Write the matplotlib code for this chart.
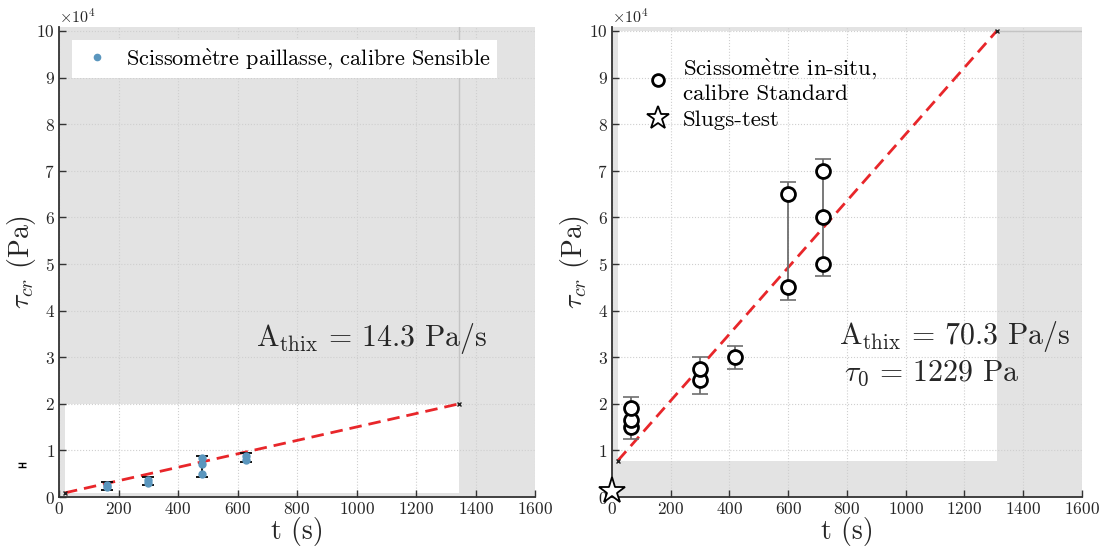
import numpy as np
import matplotlib
matplotlib.use("Agg")
import matplotlib.pyplot as plt
from matplotlib.patches import Rectangle
from matplotlib.ticker import ScalarFormatter, MultipleLocator

plt.rcParams["font.family"] = ["cmr10", "DejaVu Serif"]
plt.rcParams["mathtext.fontset"] = "cm"
plt.rcParams["axes.unicode_minus"] = False
plt.rcParams["axes.formatter.use_mathtext"] = True

# Scissomètre paillasse (gauche)
t_pail = [160, 160, 300, 300, 480, 480, 480, 630, 630]
tau_pail = [2100, 2600, 3100, 3700, 4900, 7000, 8300, 8000, 8800]
t_pail_bar = [160, 300, 480, 630]
tau_pail_lo = [1450, 2500, 4400, 7450]
tau_pail_hi = [3250, 4200, 8750, 9350]
fit_pail_t = [20, 1345]
fit_pail_tau = [900, 20000]

# Scissomètre in-situ (droite)
t_situ = [65, 65, 65, 300, 300, 420, 600, 600, 720, 720, 720]
tau_situ = [15000, 16500, 19000, 25000, 27500, 30000, 45000, 65000, 50000, 60000, 70000]
t_situ_bar = [65, 300, 420, 600, 720]
tau_situ_lo = [12500, 22000, 27500, 42300, 47500]
tau_situ_hi = [21500, 30000, 32500, 67600, 72500]
fit_situ_t = [20, 1310]
fit_situ_tau = [7800, 100000]
t_slug = [0]
tau_slug = [1229]

EGRAVE = r"$\mathrm{\grave{e}}$"
BG = "#e3e3e3"
BLUE = "#5a96be"
RED = "#e8262a"
TXT = "#262626"

fig = plt.figure(figsize=(11.03, 5.52), dpi=100)
ax1 = fig.add_axes([0.0535, 0.0996, 0.4316, 0.852])
ax2 = fig.add_axes([0.5548, 0.0996, 0.4261, 0.852])


def style(ax, fit_t, fit_tau):
    ax.set_facecolor(BG)
    ax.set_xlim(0, 1600)
    ax.set_ylim(0, 100900)
    ax.xaxis.set_major_locator(MultipleLocator(200))
    ax.yaxis.set_major_locator(MultipleLocator(10000))
    fmt = ScalarFormatter(useMathText=True)
    fmt.set_powerlimits((4, 4))
    ax.yaxis.set_major_formatter(fmt)
    ax.yaxis.get_offset_text().set_fontsize(11.5)
    ax.yaxis.get_offset_text().set_color(TXT)
    for s in ["top", "right"]:
        ax.spines[s].set_visible(False)
    for s in ["left", "bottom"]:
        ax.spines[s].set_color("#333333")
        ax.spines[s].set_linewidth(1.3)
    ax.tick_params(direction="in", length=5, width=1, colors="#333333",
                   labelsize=12.5, labelcolor=TXT, pad=3)
    ax.grid(True, ls=":", lw=0.8, color="#cfcfcf", zorder=0.5)
    ax.set_axisbelow(True)
    ax.add_patch(Rectangle((fit_t[0], fit_tau[0]), fit_t[1] - fit_t[0],
                           fit_tau[1] - fit_tau[0], facecolor="white",
                           edgecolor="none", zorder=0.3))
    ax.plot(fit_t, fit_tau, ls=(0, (4.5, 2.5)), color=RED, lw=2, zorder=3)
    ax.plot(fit_t, fit_tau, ls="none", marker="x", ms=3, mew=1,
            color="#222222", zorder=4)
    ax.set_xlabel("t (s)", fontsize=20, color=TXT, labelpad=0)
    ax.set_ylabel(r"$\tau_{cr}$ (Pa)", fontsize=20, color=TXT)
    ax.yaxis.set_label_coords(-0.045, 0.5)


# gauche
style(ax1, fit_pail_t, fit_pail_tau)
ax1.plot([fit_pail_t[1]] * 2, [fit_pail_tau[1], 100900], color="#c4c4c4",
         lw=1, zorder=0.6)
mid = (np.array(tau_pail_lo) + np.array(tau_pail_hi)) / 2
half = (np.array(tau_pail_hi) - np.array(tau_pail_lo)) / 2
ax1.errorbar(t_pail_bar, mid, yerr=half, fmt="none", ecolor="black",
             elinewidth=1.3, capsize=4.5, capthick=1.3, zorder=5)
ax1.plot(t_pail, tau_pail, ls="none", marker="o", ms=5, color=BLUE,
         zorder=6, label="Scissom" + EGRAVE + "tre paillasse, calibre Sensible")
ax1.errorbar([-125], [6860], yerr=[450], fmt="none", ecolor="black",
             elinewidth=1, capsize=3, capthick=1, clip_on=False)
leg1 = ax1.legend(loc="upper left", fontsize=16, frameon=True, fancybox=False,
                  handletextpad=0.5, borderaxespad=0.6, borderpad=0.3,
                  markerscale=0.9, handlelength=1.6)
leg1.get_frame().set_edgecolor("none")
leg1.get_frame().set_alpha(1)
ax1.text(1440, 34000, r"A$_\mathrm{thix}$ = 14.3 Pa/s", fontsize=21.5,
         color=TXT, ha="right", va="center")

# droite
style(ax2, fit_situ_t, fit_situ_tau)
ax2.plot([fit_situ_t[1], 1600], [fit_situ_tau[1]] * 2, color="#c4c4c4",
         lw=1, zorder=0.6)
mid = (np.array(tau_situ_lo) + np.array(tau_situ_hi)) / 2
half = (np.array(tau_situ_hi) - np.array(tau_situ_lo)) / 2
eb = ax2.errorbar(t_situ_bar, mid, yerr=half, fmt="none", ecolor="#6e6e6e",
                  elinewidth=1.3, capsize=5.5, capthick=1.2, zorder=5)
for cl in eb[1]:
    cl.set_color("black")
ax2.plot(t_situ, tau_situ, ls="none", marker="o", ms=10, mfc="white",
         mec="black", mew=2, zorder=6,
         label="Scissom" + EGRAVE + "tre in-situ,\ncalibre Standard")
ax2.plot(t_slug, tau_slug, ls="none", marker="*", ms=20, mfc="white",
         mec="black", mew=1.3, zorder=7, clip_on=False, label="Slugs-test")
ax2.legend(loc="upper left", fontsize=16.5, frameon=False,
           handletextpad=0.4, borderaxespad=0.9, labelspacing=0.25,
           handlelength=1.4, markerscale=0.85, bbox_to_anchor=(0.0, 1.0))
ax2.text(1560, 34500, r"A$_\mathrm{thix}$ = 70.3 Pa/s", fontsize=21.5,
         color=TXT, ha="right", va="center")
ax2.text(790, 26500, r"$\tau_0$ = 1229 Pa", fontsize=21.5,
         color=TXT, ha="left", va="center")

fig.savefig("out.png", dpi=100)
